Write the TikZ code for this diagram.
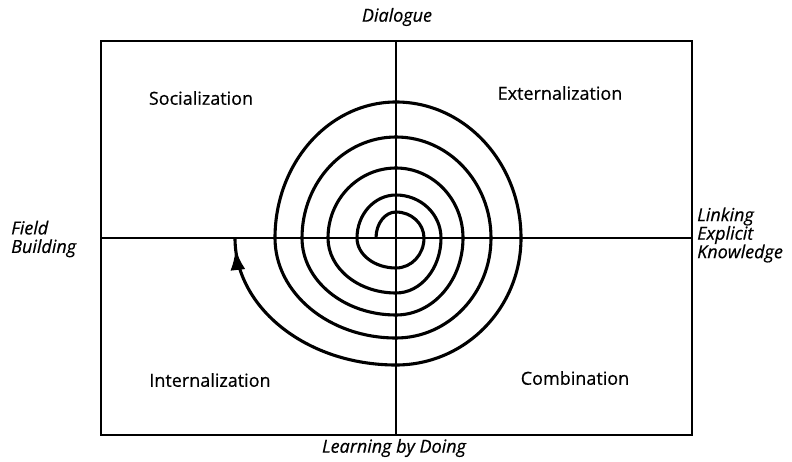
\documentclass[tikz,border=0pt]{standalone}
\usepackage{fontspec}
\setmainfont{Open Sans}[FakeBold=0.5]
\usetikzlibrary{arrows.meta,decorations.markings}
\tikzset{
  frame/.style={line width=2pt},
  axis/.style={line width=1.3pt},
  spiralline/.style={line width=3.1pt, line cap=butt,
    postaction={decorate},
    decoration={markings, mark=at position -11pt with {\arrow{Latex[length=21pt,width=15pt]}}}},
  quad/.style={font=\fontsize{18}{21}\selectfont, inner sep=0pt},
  axlabel/.style={font=\fontsize{18}{18.5}\selectfont\itshape, inner sep=0pt},
}
\begin{document}
\begin{tikzpicture}[x=1pt,y=1pt]
\useasboundingbox (0,0) rectangle (792,461);
% frame and axes
\coordinate (tl) at (101,420);
\coordinate (br) at (692,26);
\coordinate (top) at (396,420);
\coordinate (bot) at (396,26);
\coordinate (lft) at (101,223);
\coordinate (rgt) at (692,223);
\draw[frame] (tl) rectangle (br);
\draw[axis] (top) -- (bot);
\draw[axis] (lft) -- (rgt);
% spiral
\coordinate (s0) at (376,223);
\draw[spiralline] (s0)
  arc[start angle=180,end angle=90,x radius=20,y radius=26]
  arc[start angle=90,end angle=0,x radius=28,y radius=26]
  arc[start angle=0,end angle=-90,x radius=28,y radius=30]
  arc[start angle=-90,end angle=-180,x radius=39,y radius=30]
  arc[start angle=180,end angle=90,x radius=39,y radius=43]
  arc[start angle=90,end angle=0,x radius=45,y radius=43]
  arc[start angle=0,end angle=-90,x radius=45,y radius=55]
  arc[start angle=-90,end angle=-180,x radius=68,y radius=55]
  arc[start angle=180,end angle=90,x radius=68,y radius=70]
  arc[start angle=90,end angle=0,x radius=67,y radius=70]
  arc[start angle=0,end angle=-90,x radius=67,y radius=77]
  arc[start angle=-90,end angle=-180,x radius=94,y radius=77]
  arc[start angle=180,end angle=90,x radius=94,y radius=101]
  arc[start angle=90,end angle=0,x radius=95,y radius=101]
  arc[start angle=0,end angle=-90,x radius=95,y radius=100]
  arc[start angle=-90,end angle=-180,x radius=121,y radius=100]
  arc[start angle=180,end angle=90,x radius=121,y radius=136]
  arc[start angle=90,end angle=0,x radius=125,y radius=136]
  arc[start angle=0,end angle=-90,x radius=125,y radius=127]
  arc[start angle=-90,end angle=-180,x radius=161,y radius=127];
% labels
\node[quad] (soc) at (201,363) {Socialization};
\node[quad] (ext) at (560,368) {Externalization};
\node[quad] (int) at (210,81) {Internalization};
\node[quad] (com) at (575,83) {Combination};
\node[axlabel] (dia) at (397,444) {Dialogue};
\node[axlabel] (lbd) at (394,13) {Learning by Doing};
\node[axlabel, align=left, anchor=west] (fb) at (11,222) {Field\\Building};
\node[axlabel, align=left, anchor=west] (lek) at (697,226) {Linking\\Explicit\\Knowledge};
\end{tikzpicture}
\end{document}
